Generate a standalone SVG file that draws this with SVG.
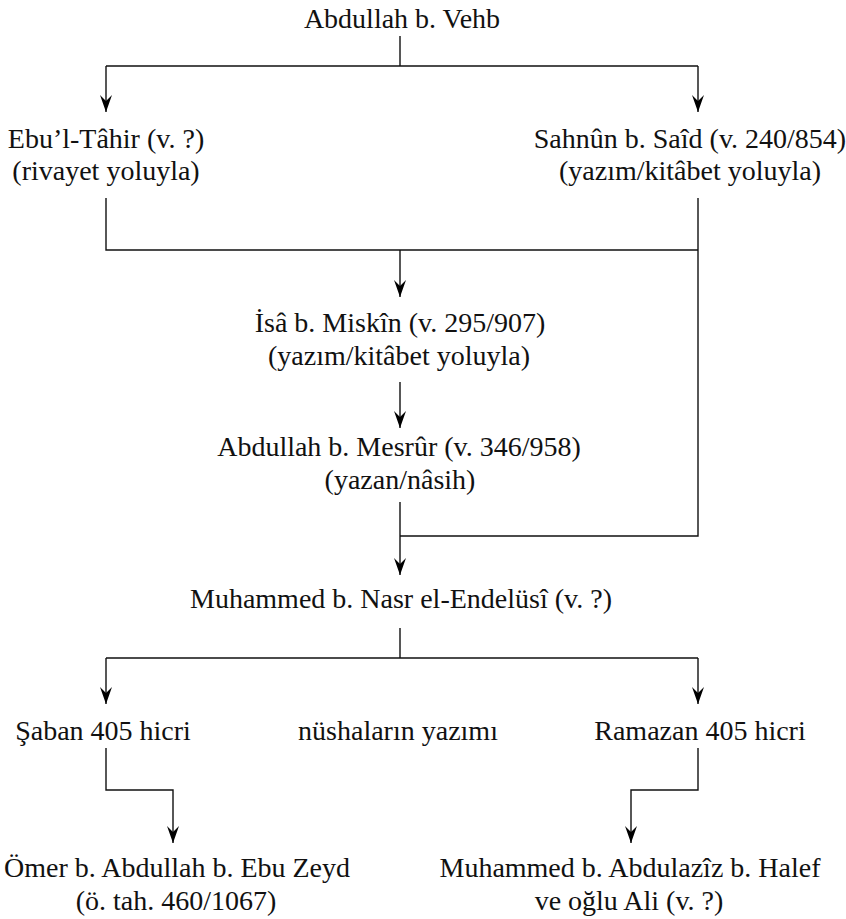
<svg xmlns="http://www.w3.org/2000/svg" width="846" height="919" viewBox="0 0 846 919">
<defs>
<marker id="arr" viewBox="-17 -7 18 14" refX="0" refY="0" markerWidth="18" markerHeight="14" markerUnits="userSpaceOnUse" orient="auto">
<path d="M0,0 L-17,-6 L-11,0 L-17,6 Z" fill="#000"/>
</marker>
<style>
text{font-size:28px;fill:#111;text-anchor:middle}
.c{fill:none;stroke:#111;stroke-width:1.4}
.a{marker-end:url(#arr)}
</style>
</defs>
<rect width="846" height="919" fill="#fff"/>
<g id="connectors">
<path class="c" d="M400,36 V66 M106,66 H698"/>
<path class="c a" d="M106,66 V112"/>
<path class="c a" d="M698,66 V112"/>
<path class="c" d="M106,198 V250 H698 M698,198 V536 H400"/>
<path class="c a" d="M400,250 V297"/>
<path class="c a" d="M400,382 V428"/>
<path class="c a" d="M400,502 V575"/>
<path class="c" d="M400,628 V658 M106,658 H698"/>
<path class="c a" d="M106,658 V704"/>
<path class="c a" d="M698,658 V704"/>
<path class="c a" d="M106,748 V790 H173 V843"/>
<path class="c a" d="M698,748 V790 H631 V843"/>
</g>
<g font-family="'Liberation Serif', 'DejaVu Serif', serif">
<g id="n1"><text x="402" y="28">Abdullah b. Vehb</text></g>
<g id="n2"><text x="106" y="148">Ebu’l-Tâhir (v. ?)</text><text x="106" y="180">(rivayet yoluyla)</text></g>
<g id="n3"><text x="690" y="148">Sahnûn b. Saîd (v. 240/854)</text><text x="690" y="180">(yazım/kitâbet yoluyla)</text></g>
<g id="n4"><text x="400" y="332">İsâ b. Miskîn (v. 295/907)</text><text x="399" y="365">(yazım/kitâbet yoluyla)</text></g>
<g id="n5"><text x="399" y="456">Abdullah b. Mesrûr (v. 346/958)</text><text x="400" y="489">(yazan/nâsih)</text></g>
<g id="n6"><text x="401" y="608">Muhammed b. Nasr el-Endelüsî (v. ?)</text></g>
<g id="n7"><text x="103" y="740">Şaban 405 hicri</text></g>
<g id="n8"><text x="398" y="740">nüshaların yazımı</text></g>
<g id="n9"><text x="700" y="740">Ramazan 405 hicri</text></g>
<g id="n10"><text x="177" y="877">Ömer b. Abdullah b. Ebu Zeyd</text><text x="176" y="910">(ö. tah. 460/1067)</text></g>
<g id="n11"><text x="630" y="877">Muhammed b. Abdulazîz b. Halef</text><text x="629" y="910">ve oğlu Ali (v. ?)</text></g>
</g>
</svg>
